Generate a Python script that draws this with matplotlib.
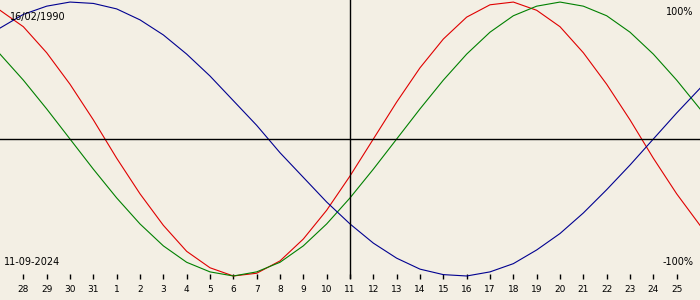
import numpy as np
import matplotlib
matplotlib.use("Agg")
import matplotlib.pyplot as plt

# days shown, 27 Aug .. 26 Sep 2024
days = [27, 28, 29, 30, 31, 1, 2, 3, 4, 5, 6, 7, 8, 9, 10, 11,
        12, 13, 14, 15, 16, 17, 18, 19, 20, 21, 22, 23, 24, 25, 26]
today = 11
birth_label = "16/02/1990"
date_label = "11-09-2024"

physical = [0.94, 0.82, 0.63, 0.40, 0.14, -0.14, -0.40, -0.63, -0.82, -0.94,
            -1.00, -0.98, -0.89, -0.73, -0.52, -0.27, 0.00, 0.27, 0.52, 0.73,
            0.89, 0.98, 1.00, 0.94, 0.82, 0.63, 0.40, 0.14, -0.14, -0.40, -0.63]
emotional = [0.62, 0.43, 0.22, 0.00, -0.22, -0.43, -0.62, -0.78, -0.90, -0.97,
             -1.00, -0.97, -0.90, -0.78, -0.62, -0.43, -0.22, 0.00, 0.22, 0.43,
             0.62, 0.78, 0.90, 0.97, 1.00, 0.97, 0.90, 0.78, 0.62, 0.43, 0.22]
intellectual = [0.81, 0.91, 0.97, 1.00, 0.99, 0.95, 0.87, 0.76, 0.62, 0.46,
                0.28, 0.10, -0.10, -0.28, -0.46, -0.62, -0.76, -0.87, -0.95, -0.99,
                -1.00, -0.97, -0.91, -0.81, -0.69, -0.54, -0.37, -0.19, 0.00, 0.19, 0.37]

bg = "#f3efe4"
fig = plt.figure(figsize=(7, 3), dpi=100, facecolor=bg)
ax = fig.add_axes([0, 21 / 300, 1, 279 / 300], facecolor=bg)

x = np.arange(len(days))
ax.plot(x, physical, color="#e00000", lw=0.8)
ax.plot(x, emotional, color="#008000", lw=0.8)
ax.plot(x, intellectual, color="#000090", lw=0.8)

ax.axhline(0, color="black", lw=1)
ax.axvline(x[1:-1][days[1:-1].index(today)], color="black", lw=1)

ax.set_xlim(0, len(days) - 1)
ax.set_ylim(-1.022, 1.015)

ax.set_xticks(x[1:-1])
ax.set_xticklabels([str(d) for d in days[1:-1]])
ax.tick_params(axis="x", direction="in", length=3.6, width=1, pad=4,
               labelsize=6.5, color="black")
ax.set_yticks([])
for s in ax.spines.values():
    s.set_visible(False)

ax.text(0.0143, 0.939, birth_label, transform=ax.transAxes, fontsize=7,
        va="center", ha="left")
ax.text(0.0057, 0.061, date_label, transform=ax.transAxes, fontsize=7,
        va="center", ha="left")
ax.text(0.99, 0.957, "100%", transform=ax.transAxes, fontsize=7,
        va="center", ha="right")
ax.text(0.991, 0.061, "-100%", transform=ax.transAxes, fontsize=7,
        va="center", ha="right")

fig.savefig("out.png", dpi=100, facecolor=bg)
